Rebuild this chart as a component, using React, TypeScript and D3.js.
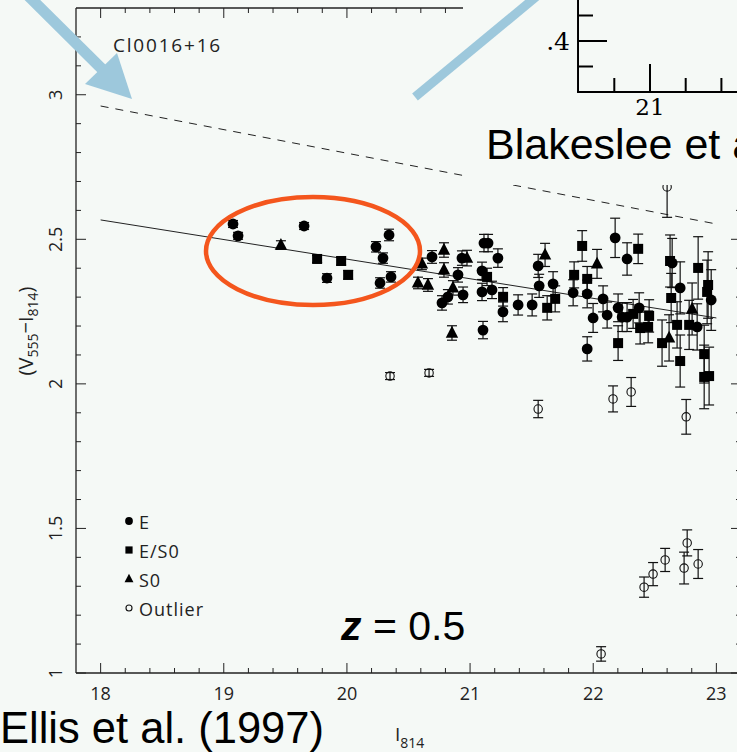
import React from 'react';
import * as d3 from 'd3';

const W = 737;
const H = 752;
const BG = '#f5f9f6';
const ARROW = '#9dc8dc';
const RING = '#f4561d';

// Each row: [I814 magnitude, V555 − I814 colour, colour error]
const ellipticals: [number, number, number][] = [
  [19.075, 2.553, 0.012], [19.116, 2.512, 0.012], [19.652, 2.546, 0.012], [19.838, 2.366, 0.015],
  [20.236, 2.474, 0.018], [20.342, 2.515, 0.02], [20.293, 2.435, 0.018], [20.269, 2.349, 0.018],
  [20.358, 2.37, 0.018], [20.691, 2.439, 0.022], [20.772, 2.28, 0.025], [20.82, 2.301, 0.025],
  [20.902, 2.377, 0.025], [20.934, 2.435, 0.025], [20.943, 2.308, 0.027], [21.113, 2.487, 0.03],
  [21.146, 2.487, 0.03], [21.097, 2.391, 0.03], [21.097, 2.318, 0.03], [21.178, 2.325, 0.03],
  [21.226, 2.435, 0.032], [21.267, 2.249, 0.034], [21.105, 2.186, 0.03], [21.39, 2.273, 0.035],
  [21.504, 2.273, 0.038], [21.553, 2.408, 0.04], [21.561, 2.339, 0.04], [21.674, 2.346, 0.042],
  [21.837, 2.315, 0.045], [21.951, 2.311, 0.048], [22.178, 2.505, 0.068], [22.275, 2.432, 0.056],
  [22.08, 2.294, 0.045], [21.999, 2.228, 0.05], [22.113, 2.238, 0.045], [21.951, 2.121, 0.042],
  [22.202, 2.263, 0.048], [22.235, 2.231, 0.05], [22.275, 2.231, 0.05], [22.373, 2.263, 0.052],
  [22.641, 2.418, 0.085], [22.706, 2.332, 0.09], [22.844, 2.197, 0.08], [22.958, 2.29, 0.105],
];

const ellipticalS0s: [number, number, number][] = [
  [19.758, 2.432, 0.012], [19.953, 2.425, 0.014], [20.01, 2.377, 0.015], [21.138, 2.37, 0.03],
  [21.268, 2.301, 0.032], [21.626, 2.263, 0.042], [21.691, 2.294, 0.045], [21.91, 2.477, 0.053],
  [21.845, 2.377, 0.045], [21.951, 2.363, 0.043], [22.365, 2.467, 0.051], [22.324, 2.242, 0.05],
  [22.381, 2.193, 0.055], [22.446, 2.197, 0.055], [22.454, 2.235, 0.056], [22.202, 2.141, 0.06],
  [22.624, 2.425, 0.09], [22.633, 2.297, 0.085], [22.681, 2.204, 0.08], [22.559, 2.141, 0.08],
  [22.706, 2.079, 0.09], [22.779, 2.204, 0.085], [22.852, 2.401, 0.108], [22.933, 2.342, 0.115],
  [22.925, 2.318, 0.11], [22.901, 2.103, 0.1], [22.901, 2.024, 0.11], [22.941, 2.027, 0.1],
];

const lenticulars: [number, number, number][] = [
  [19.464, 2.48, 0.015], [20.609, 2.415, 0.02], [20.788, 2.463, 0.025], [20.788, 2.394, 0.025],
  [20.577, 2.349, 0.02], [20.658, 2.342, 0.022], [20.853, 2.176, 0.025], [20.861, 2.332, 0.025],
  [20.975, 2.435, 0.027], [21.609, 2.446, 0.04], [22.031, 2.415, 0.05], [22.803, 2.259, 0.09],
  [22.616, 2.159, 0.08],
];

const outliers: [number, number, number][] = [
  [20.35, 2.027, 0.012], [20.667, 2.038, 0.012], [21.553, 1.913, 0.03], [22.161, 1.948, 0.045],
  [22.308, 1.972, 0.05], [22.755, 1.886, 0.06], [22.064, 1.066, 0.025], [22.413, 1.297, 0.035],
  [22.486, 1.342, 0.04], [22.584, 1.391, 0.04], [22.763, 1.45, 0.045], [22.738, 1.363, 0.055],
  [22.852, 1.377, 0.05], [22.6, 2.681, 0.105],
];

// Colour–magnitude relation fitted to the cluster, and the comparison relation
const clusterFit: [number, number][] = [[18, 2.567], [23, 2.228]];
const comparisonFit: [number, number][] = [[18, 2.961], [23, 2.553]];

const xTickLabels = ['18', '19', '20', '21', '22', '23'];
const xTickValues = [18, 19, 20, 21, 22, 23];
const yTickValues = [1, 1.5, 2, 2.5, 3];
const yTickLabels = ['1', '1.5', '2', '2.5', '3'];
const legendLabels = ['E', 'E/S0', 'S0', 'Outlier'];
const clusterName = 'Cl0016+16';

// Corner of the companion colour–magnitude panel
const insetXTicks = [20.75, 21, 21.25, 21.5];
const insetYTicks = [0.35, 0.4, 0.45];

const plotFont = '"Open Sans", "DejaVu Sans", sans-serif';
const slideFont = '"Liberation Sans", Arial, sans-serif';
const serifFont = '"DejaVu Serif", "Liberation Serif", serif';

type Kind = 'E' | 'ES0' | 'S0' | 'out';

function Marker({ kind, cx, cy, s = 1 }: { kind: Kind; cx: number; cy: number; s?: number }) {
  if (kind === 'E') return <circle cx={cx} cy={cy} r={5.4 * s} fill="#000" />;
  if (kind === 'ES0') return <rect x={cx - 5 * s} y={cy - 5 * s} width={10 * s} height={10 * s} fill="#000" />;
  if (kind === 'S0') {
    const h = 6.2 * s;
    return (
      <path
        d={`M${cx},${cy - h * 1.15} L${cx + h},${cy + h * 0.75} L${cx - h},${cy + h * 0.75} Z`}
        fill="#000"
      />
    );
  }
  return <circle cx={cx} cy={cy} r={4.2 * s} fill="none" stroke="#111" strokeWidth={1.1} />;
}

export default function App() {
  const x = d3.scaleLinear().domain([17.8, 23.2]).range([76, 741]);
  const y = d3.scaleLinear().domain([1, 3.3]).range([673, 8]);
  const line = d3
    .line<[number, number]>()
    .x((d) => x(d[0]))
    .y((d) => y(d[1]));

  const ix = d3.scaleLinear().domain([21, 21.25]).range([650, 685.7]);
  const iy = d3.scaleLinear().domain([0.3, 0.4]).range([92, 41]);

  const xLeft = x(17.8);
  const xRight = x(23.2);
  const yBottom = y(1);
  const yTop = y(3.3);

  const xTickSteps = d3.range(90, 116); // fifths of a magnitude, 18.0 … 23.0
  const yTickSteps = d3.range(10, 33); // tenths of a magnitude, 1.0 … 3.2

  const groups: { kind: Kind; rows: [number, number, number][] }[] = [
    { kind: 'out', rows: outliers },
    { kind: 'ES0', rows: ellipticalS0s },
    { kind: 'S0', rows: lenticulars },
    { kind: 'E', rows: ellipticals },
  ];

  return (
    <svg
      width={W}
      height={H}
      viewBox={`0 0 ${W} ${H}`}
      style={{ position: 'fixed', left: 0, top: 0, display: 'block' }}
    >
      <rect width={W} height={H} fill={BG} />

      {/* frame */}
      <g stroke="#222" fill="none">
        <line x1={xLeft} x2={xLeft} y1={yTop} y2={yBottom} strokeWidth={1.3} />
        <line x1={xLeft} x2={xRight} y1={yBottom} y2={yBottom} strokeWidth={1.3} />
        <line x1={xLeft} x2={xRight} y1={yTop} y2={yTop} strokeWidth={1.3} />
        <line x1={xRight} x2={xRight} y1={yTop} y2={yBottom} strokeWidth={1.3} />
        {xTickSteps.map((i) => {
          const v = i / 5;
          const len = i % 5 === 0 ? 10 : 5;
          return (
            <g key={`xt${i}`} strokeWidth={1}>
              <line x1={x(v)} x2={x(v)} y1={yBottom} y2={yBottom - len} />
              <line x1={x(v)} x2={x(v)} y1={yTop} y2={yTop + len} />
            </g>
          );
        })}
        {yTickSteps.map((i) => {
          const v = i / 10;
          const len = i % 5 === 0 ? 10 : 5;
          return (
            <g key={`yt${i}`} strokeWidth={1}>
              <line x1={xLeft} x2={xLeft + len} y1={y(v)} y2={y(v)} />
              <line x1={xRight} x2={xRight - len} y1={y(v)} y2={y(v)} />
            </g>
          );
        })}
      </g>

      {/* tick labels */}
      <g fontFamily={plotFont} fontSize={18} fill="#222">
        {xTickValues.map((v, i) => (
          <text key={`xl${v}`} x={x(v)} y={700} textAnchor="middle">
            {xTickLabels[i]}
          </text>
        ))}
        {yTickValues.map((v, i) => (
          <text
            key={`yl${v}`}
            transform={`translate(62,${y(v)}) rotate(-90)`}
            textAnchor="middle"
          >
            {yTickLabels[i]}
          </text>
        ))}
        <text transform="translate(33,331) rotate(-90)" textAnchor="middle" fontSize={20}>
          <tspan>(V</tspan>
          <tspan fontSize={14} dy={5}>555</tspan>
          <tspan dy={-5}>−I</tspan>
          <tspan fontSize={14} dy={5}>814</tspan>
          <tspan dy={-5}>)</tspan>
        </text>
        <text x={395} y={741} fontSize={19}>
          <tspan>I</tspan>
          <tspan fontSize={14} dy={7}>814</tspan>
        </text>
        <text x={113} y={52} fontSize={19} letterSpacing={1.8}>
          {clusterName}
        </text>
      </g>

      {/* relations */}
      <path d={line(comparisonFit) ?? ''} fill="none" stroke="#222" strokeWidth={1} strokeDasharray="8 7" />
      <path d={line(clusterFit) ?? ''} fill="none" stroke="#222" strokeWidth={1} />

      {/* error bars */}
      <g stroke="#111" strokeWidth={1.2}>
        {groups.map((g) =>
          g.rows.map(([m, c, e], i) => {
            const px = x(m);
            const y0 = y(c - e);
            const y1 = y(c + e);
            return (
              <g key={`eb${g.kind}${i}`}>
                <line x1={px} x2={px} y1={y0} y2={y1} />
                <line x1={px - 5} x2={px + 5} y1={y0} y2={y0} />
                <line x1={px - 5} x2={px + 5} y1={y1} y2={y1} />
              </g>
            );
          })
        )}
      </g>

      {/* galaxies */}
      <g>
        {groups.map((g) =>
          g.rows.map(([m, c], i) => <Marker key={`m${g.kind}${i}`} kind={g.kind} cx={x(m)} cy={y(c)} />)
        )}
      </g>

      {/* legend */}
      <g fontFamily={plotFont} fontSize={18} fill="#222">
        {legendLabels.map((label, i) => {
          const kinds: Kind[] = ['E', 'ES0', 'S0', 'out'];
          const cy = 521 + i * 29;
          return (
            <g key={label}>
              <Marker kind={kinds[i]} cx={129} cy={cy} s={0.72} />
              <text x={139} y={cy + 8} letterSpacing={1}>
                {label}
              </text>
            </g>
          );
        })}
      </g>

      {/* companion panel */}
      <rect x={463} y={0} width={W - 463} height={185} fill={BG} />
      <g stroke="#000" strokeWidth={2} fill="none">
        <line x1={ix(20.496)} x2={ix(20.496)} y1={-2} y2={iy(0.3)} />
        <line x1={ix(20.496) - 1} x2={W + 5} y1={iy(0.3)} y2={iy(0.3)} />
        {insetXTicks.map((v) => (
          <line key={`ixt${v}`} x1={ix(v)} x2={ix(v)} y1={iy(0.3)} y2={iy(0.3) - (v % 1 === 0 ? 28 : 14)} />
        ))}
        {insetYTicks.map((v) => (
          <line
            key={`iyt${v}`}
            x1={ix(20.496)}
            x2={ix(20.496) + (Math.abs(v - 0.4) < 1e-6 ? 29 : 15)}
            y1={iy(v)}
            y2={iy(v)}
          />
        ))}
      </g>
      <g fontFamily={serifFont} fill="#000">
        <text x={570} y={iy(0.4) + 9} fontSize={25} textAnchor="end">
          .4
        </text>
        <text x={ix(21)} y={115} fontSize={23} textAnchor="middle">
          21
        </text>
      </g>

      {/* slide annotations */}
      <g fontFamily={slideFont} fill="#000">
        <text x={486} y={159} fontSize={43}>
          Blakeslee et al.
        </text>
        <text x={0} y={743} fontSize={43.5}>
          Ellis et al. (1997)
        </text>
        <text x={341} y={640} fontSize={41}>
          <tspan fontStyle="italic" fontWeight="bold">z</tspan>
          <tspan> = 0.5</tspan>
        </text>
      </g>

      <ellipse cx={313} cy={251} rx={107} ry={54} fill="none" stroke={RING} strokeWidth={4.5} />

      {/* arrows */}
      <g fill={ARROW} stroke="none">
        <line x1={-25} y1={-57} x2={103} y2={70} stroke={ARROW} strokeWidth={11} />
        <path d="M132,99 L85,84 L117,53 Z" />
        <line x1={415} y1={97} x2={560} y2={-23} stroke={ARROW} strokeWidth={9} />
      </g>
    </svg>
  );
}
